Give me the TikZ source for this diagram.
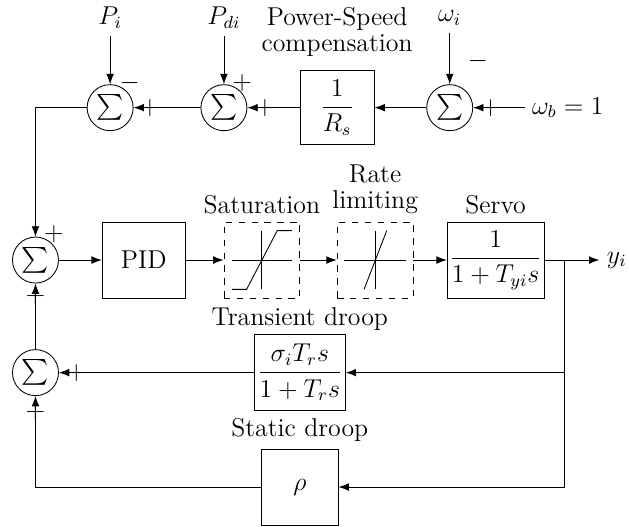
\documentclass[tikz,border=0pt]{standalone}
\usepackage{amsmath}
\usepackage{xcolor}
\usepackage{tikz}
\usetikzlibrary{arrows.meta,positioning,calc}

\begin{document}
\begin{tikzpicture}[
  every node/.style={font=\large},
  block/.style={draw, inner sep=1pt, minimum width=1.25cm, minimum height=1.24cm, align=center},
  dblock/.style={draw, dashed, minimum width=1.24cm, minimum height=1.24cm},
  sumcirc/.style={draw, circle, inner sep=1.4pt},
  sign/.style={inner sep=0pt},
  caption/.style={align=center},
  arrow/.style={-Latex}
]
  \useasboundingbox (0,0) rectangle (10.28,-8.61);

  \node (pi)  at (1.80,-0.29) {$P_i$};
  \node (pdi) at (3.66,-0.29) {$P_{di}$};
  \node (wi)  at (7.35,-0.29) {$\omega_i$};
  \node[sumcirc] (s1) at (1.80,-1.76) {$\sum$};
  \node[sumcirc] (s2) at (3.66,-1.76) {$\sum$};
  \node[block, minimum width=1.21cm, minimum height=1.21cm] (rs) at (5.51,-1.76) {$\dfrac{1}{R_s}$};
  \node[sumcirc] (s3) at (7.35,-1.76) {$\sum$};
  \node (wb) at (9.28,-1.76) {$\omega_b = 1$};
  \node[caption, above=0.1cm of rs] (rslbl) {Power-Speed\\[-2pt]compensation};

  \node[sumcirc] (s4) at (0.58,-4.25) {$\sum$};
  \node[block, minimum width=1.36cm] (pid) at (2.35,-4.25) {PID};
  \node[dblock] (sat)  at (4.28,-4.25) {};
  \node[dblock] (rate) at (6.13,-4.25) {};
  \node[block, minimum width=1.49cm] (servo) at (8.10,-4.25) {$\dfrac{1}{1+T_{yi}s}$};
  \node (yi) at (10.08,-4.25) {$y_i$};
  \coordinate (br) at (9.22,-4.25);
  \node[above=0pt of sat] (satlbl) {Saturation};
  \node[caption, above=0pt of rate] (ratelbl) {Rate\\[-2pt]limiting};
  \node[above=0pt of servo] (servolbl) {Servo};

  \node[block, minimum width=1.49cm] (trans) at (4.90,-6.09) {$\dfrac{\sigma_i T_r s}{1+T_r s}$};
  \node[block] (stat) at (4.90,-7.96) {$\rho$};
  \node[sumcirc] (s5) at (0.58,-6.09) {$\sum$};
  \node[above=-2pt of trans] (translbl) {Transient droop};
  \node[above=0pt of stat] (statlbl) {Static droop};

  \node[sign] (s1m) at ($(s1)+(0.32,0.41)$) {$-$};
  \node[sign] (s1p) at ($(s1)+(0.65,0)$)    {$+$};
  \node[sign] (s2a) at ($(s2)+(0.30,0.41)$) {$+$};
  \node[sign] (s2b) at ($(s2)+(0.67,0)$)    {$+$};
  \node[sign] (s3m) at ($(s3)+(0.46,0.77)$) {$-$};
  \node[sign] (s3p) at ($(s3)+(0.67,0)$)    {$+$};
  \node[sign] (s4a) at ($(s4)+(0.30,0.42)$) {$+$};
  \node[sign] (s4b) at ($(s4)+(0,-0.59)$)   {$+$};
  \node[sign] (s5a) at ($(s5)+(0.67,0)$)    {$+$};
  \node[sign] (s5b) at ($(s5)+(0,-0.65)$)   {$+$};

  \begin{scope}[shift={(sat)}]
    \draw (-0.49,0) -- (0.49,0);
    \draw (0,-0.48) -- (0,0.48);
    \draw (-0.49,-0.48) -- (-0.25,-0.48) -- (0.25,0.48) -- (0.49,0.48);
  \end{scope}
  \begin{scope}[shift={(rate)}]
    \draw (-0.5,0) -- (0.5,0);
    \draw (0,-0.48) -- (0,0.48);
    \draw (-0.18,-0.48) -- (0.19,0.48);
  \end{scope}

  \draw[arrow] (wi) -- (s3);
  \draw[arrow] (wb) -- (s3);
  \draw[arrow] (s3) -- (rs);
  \draw[arrow] (rs) -- (s2);
  \draw[arrow] (pdi) -- (s2);
  \draw[arrow] (s2) -- (s1);
  \draw[arrow] (pi) -- (s1);
  \draw[arrow] (s1) -| (s4);
  \draw[arrow] (s4) -- (pid);
  \draw[arrow] (pid) -- (sat);
  \draw[arrow] (sat) -- (rate);
  \draw[arrow] (rate) -- (servo);
  \draw[arrow] (servo) -- (yi);
  \draw[arrow] (br) |- (trans);
  \draw[arrow] (br) |- (stat);
  \draw[arrow] (trans) -- (s5);
  \draw[arrow] (stat) -| (s5);
  \draw[arrow] (s5) -- (s4);
\end{tikzpicture}
\end{document}
